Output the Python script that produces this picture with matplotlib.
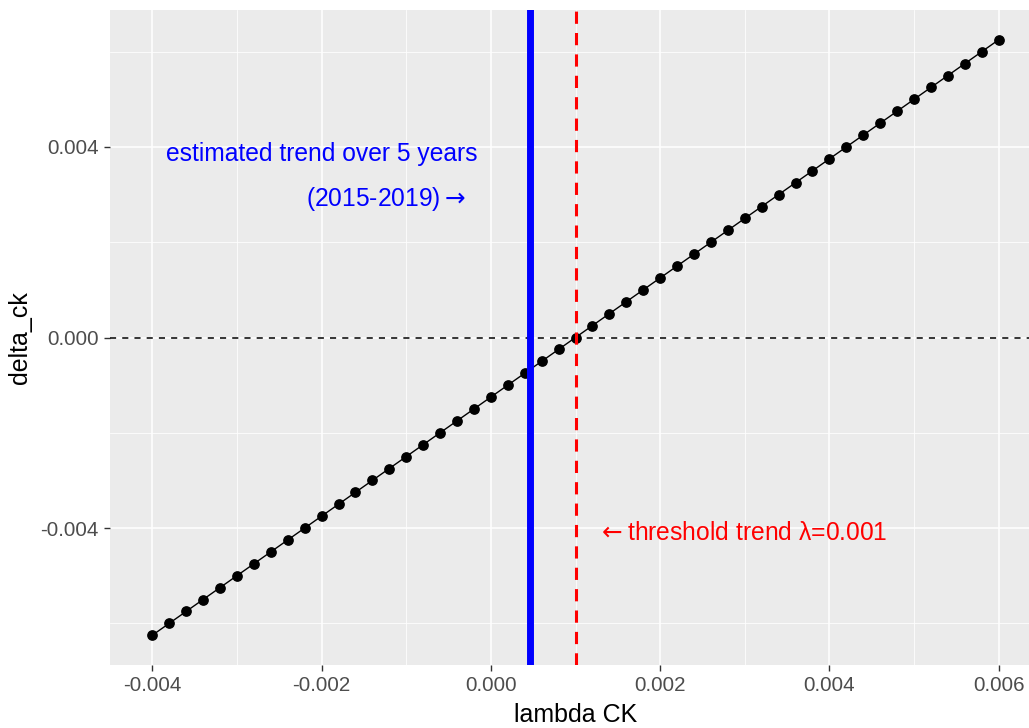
import matplotlib
matplotlib.use("Agg")
from matplotlib import pyplot as plt
from matplotlib.ticker import FixedLocator, FormatStrFormatter

# lambda values on the grid and the resulting delta_ck
lam = [-0.0040, -0.0038, -0.0036, -0.0034, -0.0032, -0.0030, -0.0028, -0.0026,
       -0.0024, -0.0022, -0.0020, -0.0018, -0.0016, -0.0014, -0.0012, -0.0010,
       -0.0008, -0.0006, -0.0004, -0.0002, 0.0000, 0.0002, 0.0004, 0.0006,
       0.0008, 0.0010, 0.0012, 0.0014, 0.0016, 0.0018, 0.0020, 0.0022,
       0.0024, 0.0026, 0.0028, 0.0030, 0.0032, 0.0034, 0.0036, 0.0038,
       0.0040, 0.0042, 0.0044, 0.0046, 0.0048, 0.0050, 0.0052, 0.0054,
       0.0056, 0.0058, 0.0060]
delta_ck = [-0.00625, -0.00600, -0.00575, -0.00550, -0.00525, -0.00500,
            -0.00475, -0.00450, -0.00425, -0.00400, -0.00375, -0.00350,
            -0.00325, -0.00300, -0.00275, -0.00250, -0.00225, -0.00200,
            -0.00175, -0.00150, -0.00125, -0.00100, -0.00075, -0.00050,
            -0.00025, 0.00000, 0.00025, 0.00050, 0.00075, 0.00100,
            0.00125, 0.00150, 0.00175, 0.00200, 0.00225, 0.00250,
            0.00275, 0.00300, 0.00325, 0.00350, 0.00375, 0.00400,
            0.00425, 0.00450, 0.00475, 0.00500, 0.00525, 0.00550,
            0.00575, 0.00600, 0.00625]

est_trend = 0.000458
threshold = 0.001

x_major = [-0.004, -0.002, 0.000, 0.002, 0.004, 0.006]
x_minor = [-0.003, -0.001, 0.001, 0.003, 0.005]
y_major = [-0.004, 0.000, 0.004]
y_minor = [-0.006, -0.002, 0.002, 0.006]

plt.rcParams['font.family'] = ['Liberation Sans', 'DejaVu Sans']
plt.rcParams['mathtext.fontset'] = 'dejavusans'

W, H = 1029, 728
fig = plt.figure(figsize=(W / 100, H / 100), dpi=100)
ax = fig.add_axes([110 / W, (H - 665) / H, (1041 - 110) / W, (665 - 10) / H])
ax.set_facecolor('#EBEBEB')
for s in ax.spines.values():
    s.set_visible(False)

ax.set_xlim(-0.0045, 0.0065)
ax.set_ylim(-0.006875, 0.006875)

ax.xaxis.set_major_locator(FixedLocator(x_major))
ax.xaxis.set_minor_locator(FixedLocator(x_minor))
ax.yaxis.set_major_locator(FixedLocator(y_major))
ax.yaxis.set_minor_locator(FixedLocator(y_minor))
ax.xaxis.set_major_formatter(FormatStrFormatter('%.3f'))
ax.yaxis.set_major_formatter(FormatStrFormatter('%.3f'))

ax.grid(True, which='major', color='white', linewidth=1.1)
ax.grid(True, which='minor', color='white', linewidth=0.55)
ax.set_axisbelow(True)
ax.tick_params(which='major', length=4, width=1, color='#333333',
               labelcolor='#4D4D4D', labelsize=14.8, pad=4)
ax.tick_params(which='minor', length=0)

ax.axhline(0, color='black', linestyle=(0, (4, 4)), linewidth=1.1)
ax.plot(lam, delta_ck, color='black', linewidth=1.0)
ax.scatter(lam, delta_ck, s=45, color='black', zorder=3)
ax.axvline(est_trend, color='#0000FF', linewidth=5, zorder=4)
ax.axvline(threshold, color='#FF0000', linestyle=(0, (4, 3)), linewidth=2.2, zorder=4)

ax.text(-0.002, 0.00385, 'estimated trend over 5 years', color='#0000FF',
        fontsize=17.7, ha='center', va='center')
ax.text(-0.00124, 0.0029, '(2015-2019)$\\rightarrow$', color='#0000FF',
        fontsize=17.7, ha='center', va='center')
ax.text(0.00297, -0.0041, '$\\leftarrow$threshold trend \u03bb=0.001', color='#FF0000',
        fontsize=17.7, ha='center', va='center')

ax.set_xlabel('lambda CK', fontsize=18, labelpad=6)
ax.set_ylabel('delta_ck', fontsize=18, labelpad=6)

fig.savefig('out.png', dpi=100)
